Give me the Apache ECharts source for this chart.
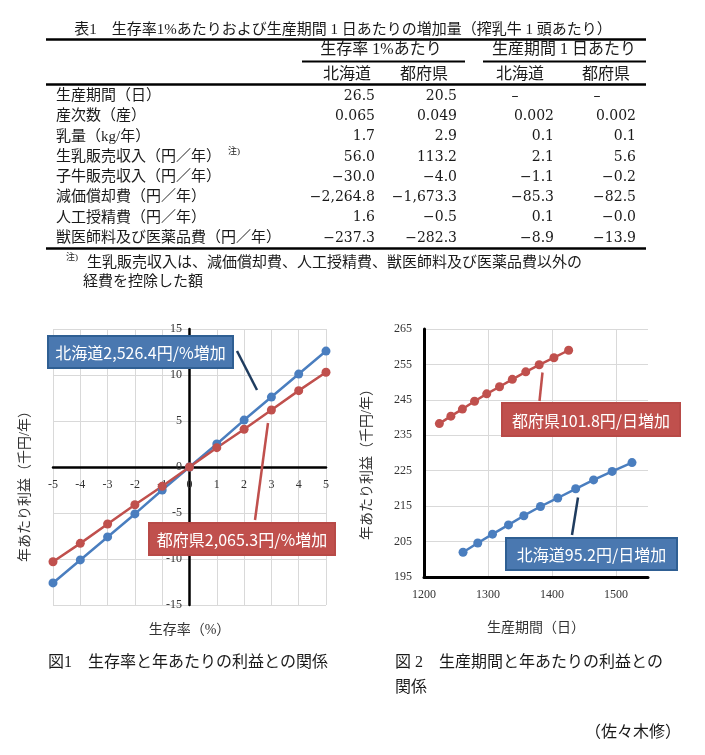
<!DOCTYPE html>
<html>
<head>
<meta charset="utf-8">
<script src="https://cdn.jsdelivr.net/npm/echarts@6/dist/echarts.min.js"></script>
<style>
  html, body { margin: 0; padding: 0; background: #fff; }
  #main { width: 705px; height: 755px; }
</style>
</head>
<body>
<div id="main"></div>
<script>
// 表1 データ
const tableTitle = '表1　生存率1%あたりおよび生産期間 1 日あたりの増加量（搾乳牛 1 頭あたり）'
const groupHeaders = ['生存率 1%あたり', '生産期間 1 日あたり']
const subHeaders = ['北海道', '都府県', '北海道', '都府県']
const rowLabels = [
  '生産期間（日）',
  '産次数（産）',
  '乳量（kg/年）',
  '生乳販売収入（円／年）',
  '子牛販売収入（円／年）',
  '減価償却費（円／年）',
  '人工授精費（円／年）',
  '獣医師料及び医薬品費（円／年）'
]
const rateHokkaido = ['26.5', '0.065', '1.7', '56.0', '-30.0', '-2,264.8', '1.6', '-237.3']
const rateTofuken = ['20.5', '0.049', '2.9', '113.2', '-4.0', '-1,673.3', '-0.5', '-282.3']
const dayHokkaido = ['–', '0.002', '0.1', '2.1', '-1.1', '-85.3', '0.1', '-8.9']
const dayTofuken = ['–', '0.002', '0.1', '5.6', '-0.2', '-82.5', '-0.0', '-13.9']
const footnote = ['生乳販売収入は、減価償却費、人工授精費、獣医師料及び医薬品費以外の', '経費を控除した額']

// 図1 生存率と年あたりの利益
const survivalRate = [-5, -4, -3, -2, -1, 0, 1, 2, 3, 4, 5]
const profitRateHokkaido = [-12.6, -10.1, -7.6, -5.1, -2.5, 0, 2.5, 5.1, 7.6, 10.1, 12.6]
const profitRateTofuken = [-10.3, -8.3, -6.2, -4.1, -2.1, 0, 2.1, 4.1, 6.2, 8.3, 10.3]

// 図2 生産期間と年あたりの利益
const daysTofuken = [1224, 1242, 1260, 1279, 1298, 1318, 1338, 1359, 1380, 1403, 1426]
const profitDaysTofuken = [238.3, 240.4, 242.4, 244.6, 246.7, 248.7, 250.8, 252.9, 254.9, 256.9, 259.0]
const daysHokkaido = [1261, 1284, 1307, 1332, 1356, 1382, 1409, 1437, 1465, 1494, 1525]
const profitDaysHokkaido = [202.0, 204.6, 207.1, 209.7, 212.3, 214.9, 217.3, 219.9, 222.4, 224.8, 227.3]

const SERIF = "'Liberation Serif', 'Noto Sans CJK JP', serif"
const NUM = "'DejaVu Serif', serif"
const SANS = "'Noto Sans CJK JP', sans-serif"
const BLUE = '#4a7ebf'
const RED = '#c0504d'

const chart = echarts.init(document.getElementById('main'))

const text = (str, x, y, opt = {}) => ({
  type: 'text',
  x,
  y,
  z: 10,
  style: {
    text: str,
    font: (opt.size || 15) + 'px ' + (opt.family || SERIF),
    fill: opt.color || '#1a1a1a',
    align: opt.align || 'left',
    verticalAlign: 'middle'
  }
})
const rule = (x1, y1, x2, y2, w, color) => ({
  type: 'line',
  z: 10,
  shape: { x1, y1, x2, y2 },
  style: { stroke: color || '#000', lineWidth: w || 2 }
})
const callout = (label, box, fill, stroke) => [
  {
    type: 'rect',
    z: 20,
    shape: { x: box[0], y: box[1], width: box[2], height: box[3] },
    style: { fill, stroke, lineWidth: 2 }
  },
  {
    type: 'text',
    z: 21,
    x: box[0] + box[2] / 2,
    y: box[1] + box[3] / 2 + 1,
    style: {
      text: label,
      font: '16px ' + SANS,
      fill: '#fff',
      align: 'center',
      verticalAlign: 'middle'
    }
  }
]

// 表のグラフィック
const graphics = []
graphics.push(text(tableTitle, 343, 30, { align: 'center' }))
graphics.push(rule(46, 39.5, 646, 39.5, 2.5))
graphics.push(text(groupHeaders[0], 381, 50, { align: 'center', size: 16 }))
graphics.push(text(groupHeaders[1], 564, 50, { align: 'center', size: 16 }))
graphics.push(rule(302, 61.5, 465, 61.5, 2))
graphics.push(rule(483, 61.5, 646, 61.5, 2))
;[347, 424, 520, 606].forEach((cx, i) => graphics.push(text(subHeaders[i], cx, 75, { align: 'center', size: 16 })))
graphics.push(rule(46, 84.5, 646, 84.5, 2.5))

const colRight = [375, 457, 554, 636]
const cols = [rateHokkaido, rateTofuken, dayHokkaido, dayTofuken]
rowLabels.forEach((label, r) => {
  const y = 96 + r * 20.3
  graphics.push(text(label, 56, y))
  cols.forEach((col, c) => {
    const v = col[r]
    if (v === '–') graphics.push(text(v, colRight[c] - 39, y, { align: 'center', family: NUM, size: 14 }))
    else graphics.push(text(v.replace('-', '−'), colRight[c], y, { align: 'right', family: NUM, size: 14 }))
  })
})
graphics.push(text('注)', 228, 152, { size: 9 }))
graphics.push(rule(46, 248.5, 646, 248.5, 2.5))
graphics.push(text('注)', 66, 258, { size: 9 }))
graphics.push(text(footnote[0], 87, 263))
graphics.push(text(footnote[1], 83, 282.5))

// 吹き出し
graphics.push(rule(237, 351, 257, 390, 2.5, '#1f3c5f'))
graphics.push(...callout('北海道2,526.4円/%増加', [48, 336, 185, 32], '#4a78b0', '#2f5f93'))
graphics.push(rule(255, 520, 268, 423, 2.5, RED))
graphics.push(...callout('都府県2,065.3円/%増加', [149, 523, 186, 32], RED, '#b84a47'))
graphics.push(rule(542.5, 372.5, 539.5, 401, 2.5, RED))
graphics.push(...callout('都府県101.8円/日増加', [502, 403, 178, 33], RED, '#b84a47'))
graphics.push(rule(578, 497.5, 572, 535, 2.5, '#1f3c5f'))
graphics.push(...callout('北海道95.2円/日増加', [506, 538, 171, 32], '#4a78b0', '#2f5f93'))

// 図の見出し
graphics.push(text('図1　生存率と年あたりの利益との関係', 48, 663, { size: 16 }))
graphics.push(text('図 2　生産期間と年あたりの利益との', 395, 663, { size: 16 }))
graphics.push(text('関係', 395, 688, { size: 16 }))
graphics.push(text('（佐々木修）', 681, 733, { size: 16, align: 'right' }))

const axisLabelStyle = { fontFamily: SERIF, fontSize: 12, color: '#333' }
const nameStyle = { fontFamily: SERIF, fontSize: 14, color: '#333' }
const gridLine = { lineStyle: { color: '#d9d9d9', width: 1 } }
const plain = v => String(v)

const lineSeries = (name, xi, xs, ys, color) => ({
  name,
  type: 'line',
  xAxisIndex: xi,
  yAxisIndex: xi,
  data: xs.map((x, i) => [x, ys[i]]),
  symbol: 'circle',
  symbolSize: 9,
  lineStyle: { color, width: 2.5 },
  itemStyle: { color }
})

const options = {
  backgroundColor: '#fff',
  animation: false,
  grid: [
    { left: 53, top: 329, width: 273, height: 276, outerBoundsMode: 'none', containLabel: false },
    { left: 424, top: 329, width: 224, height: 248, outerBoundsMode: 'none', containLabel: false }
  ],
  xAxis: [
    {
      gridIndex: 0,
      type: 'value',
      min: -5,
      max: 5,
      interval: 1,
      name: '生存率（%）',
      nameLocation: 'middle',
      nameGap: 18,
      nameMoveOverlap: false,
      nameTextStyle: nameStyle,
      axisLine: { onZero: true, lineStyle: { color: '#000', width: 2.5 } },
      axisTick: { show: false },
      // 目盛ラベルはゼロ線の下に置く
      axisLabel: { ...axisLabelStyle, margin: -126, formatter: plain },
      splitLine: gridLine
    },
    {
      gridIndex: 1,
      type: 'value',
      min: 1200,
      max: 1550,
      interval: 100,
      name: '生産期間（日）',
      nameLocation: 'middle',
      nameGap: 44,
      nameTextStyle: nameStyle,
      axisLine: { onZero: false, lineStyle: { color: '#000', width: 3 } },
      axisTick: { show: false },
      axisLabel: { ...axisLabelStyle, margin: 12, showMaxLabel: false, formatter: plain },
      splitLine: { ...gridLine, showMaxLine: false }
    }
  ],
  yAxis: [
    {
      gridIndex: 0,
      type: 'value',
      min: -15,
      max: 15,
      interval: 5,
      name: '年あたり利益（千円/年）',
      nameLocation: 'middle',
      nameRotate: 90,
      nameGap: 21,
      nameMoveOverlap: false,
      nameTextStyle: { ...nameStyle, padding: [0, 32, 0, 0] },
      axisLine: { onZero: true, lineStyle: { color: '#000', width: 2.5 } },
      axisTick: { show: false },
      // 目盛ラベルはゼロ線の左に置く
      axisLabel: { ...axisLabelStyle, margin: -129, formatter: plain },
      splitLine: gridLine
    },
    {
      gridIndex: 1,
      type: 'value',
      min: 195,
      max: 265,
      interval: 10,
      name: '年あたり利益（千円/年）',
      nameLocation: 'middle',
      nameRotate: 90,
      nameGap: 50,
      nameTextStyle: { ...nameStyle, padding: [0, 16, 0, 0] },
      axisLine: { onZero: false, lineStyle: { color: '#000', width: 3 } },
      axisTick: { show: false },
      axisLabel: { ...axisLabelStyle, margin: 12, formatter: plain },
      splitLine: gridLine
    }
  ],
  series: [
    lineSeries('北海道', 0, survivalRate, profitRateHokkaido, BLUE),
    lineSeries('都府県', 0, survivalRate, profitRateTofuken, RED),
    lineSeries('都府県', 1, daysTofuken, profitDaysTofuken, RED),
    lineSeries('北海道', 1, daysHokkaido, profitDaysHokkaido, BLUE)
  ],
  graphic: graphics
}

chart.setOption(options)
</script>
</body>
</html>
